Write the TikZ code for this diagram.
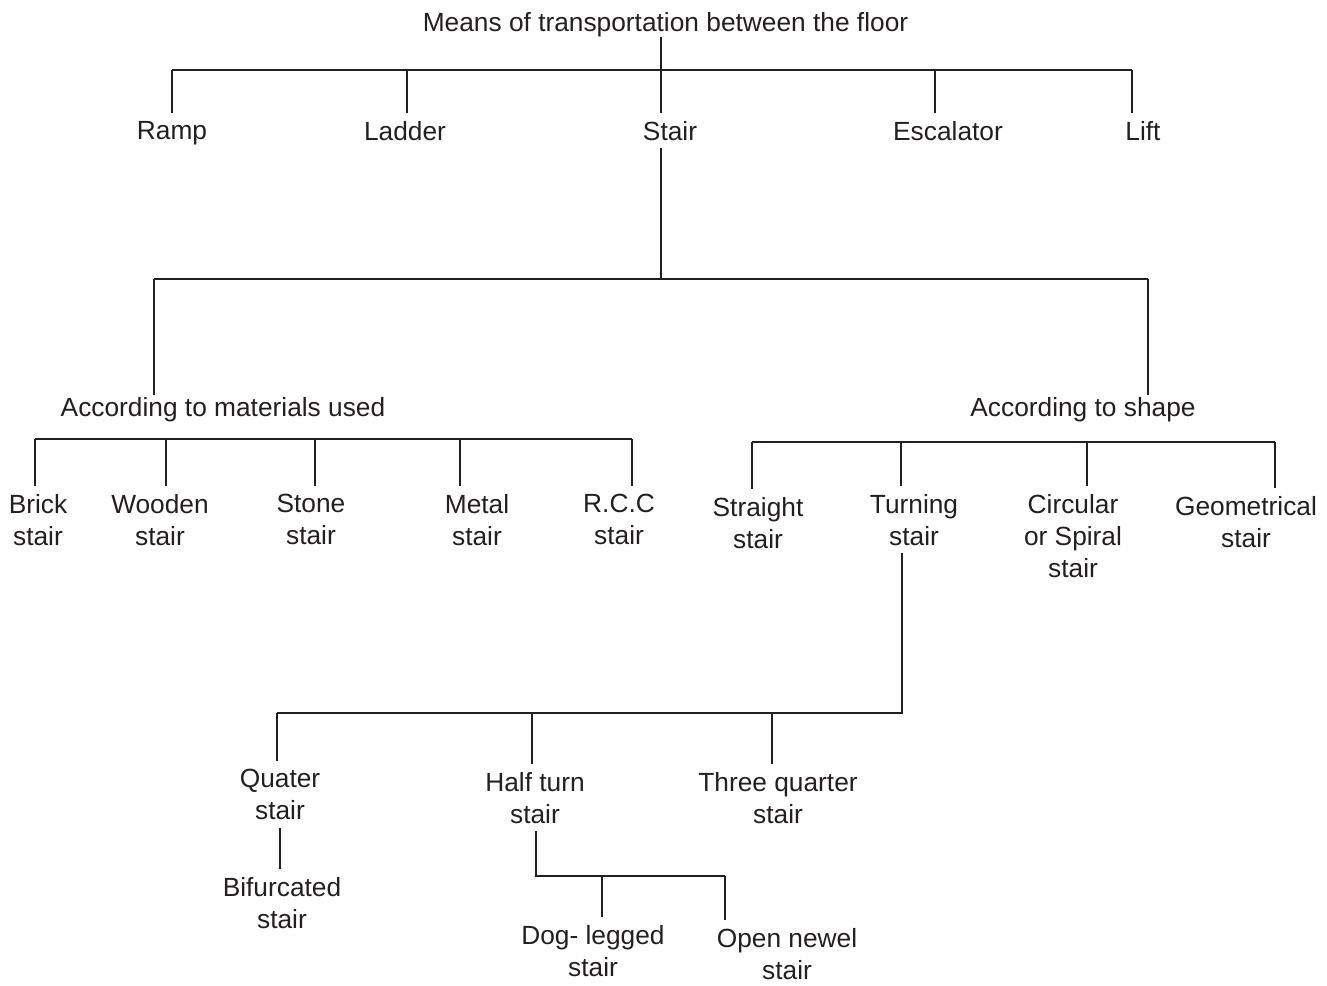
\documentclass[tikz,border=0pt]{standalone}
\usepackage{fontspec}
\setmainfont{Liberation Sans}

\definecolor{ink}{HTML}{231F20}
\tikzset{
  lbl/.style={align=center, anchor=north, inner sep=0pt, outer sep=4pt,
    text=ink, font=\fontsize{13.15}{16}\selectfont},
  link/.style={draw=ink, line width=1.1pt},
}

\begin{document}
\begin{tikzpicture}[x=0.5pt, y=-0.5pt]
  \useasboundingbox (0,0) rectangle (1327,985);

  % labels
  \node[lbl, outer sep=0pt] (title) at (665.5,12) {Means of transportation between the floor};
  \node[lbl] (ramp)      at (172,113)  {Ramp};
  \node[lbl] (ladder)    at (405,113)  {Ladder};
  \node[lbl] (stair)     at (670,113)  {Stair};
  \node[lbl] (escalator) at (948,113)  {Escalator};
  \node[lbl] (lift)      at (1143,113) {Lift};

  \node[lbl, outer sep=1pt] (mat)   at (223,395)  {According to materials used};
  \node[lbl, outer sep=1pt] (shape) at (1083,395) {According to shape};

  \node[lbl] (brick)  at (38,486)  {Brick\\stair};
  \node[lbl] (wooden) at (160,486) {Wooden\\stair};
  \node[lbl] (stone)  at (311,486) {Stone\\stair};
  \node[lbl] (metal)  at (477,486) {Metal\\stair};
  \node[lbl] (rcc)    at (619,486) {R.C.C\\stair};

  \node[lbl] (straight)  at (758,489)  {Straight\\stair};
  \node[lbl] (turning)   at (914,486)  {Turning\\stair};
  \node[lbl] (circular)  at (1073,486) {Circular\\or Spiral\\stair};
  \node[lbl] (geometric) at (1246,488) {Geometrical\\stair};

  \node[lbl] (quater)   at (280,761) {Quater\\stair};
  \node[lbl] (halfturn) at (535,764) {Half turn\\stair};
  \node[lbl] (threeq)   at (778,764) {Three quarter\\stair};
  \node[lbl] (bifurc)   at (282,869) {Bifurcated\\stair};
  \node[lbl] (dogleg)   at (593,917) {Dog- legged\\stair};
  \node[lbl] (openewel) at (787,920) {Open newel\\stair};

  % first level
  \coordinate (j-ramp)      at (172,70);
  \coordinate (j-ladder)    at (407,70);
  \coordinate (j-stair)     at (661,70);
  \coordinate (j-escalator) at (935,70);
  \coordinate (j-lift)      at (1132,70);
  \draw[link] (j-ramp) -- (j-lift);
  \draw[link] (j-stair |- title.south) -- (j-stair);
  \foreach \n in {ramp,ladder,stair,escalator,lift}
    \draw[link] (j-\n) -- (j-\n |- \n.north);

  % stair splits in two
  \coordinate (j-mat)   at (154,279);
  \coordinate (j-shape) at (1148,279);
  \draw[link] (j-stair |- stair.south) -- (j-stair |- j-mat);
  \draw[link] (j-mat) -- (j-shape);
  \draw[link] (j-mat) -- (j-mat |- mat.north);
  \draw[link] (j-shape) -- (j-shape |- shape.north);

  % materials
  \coordinate (j-brick)  at (35,439);
  \coordinate (j-wooden) at (166,439);
  \coordinate (j-stone)  at (315,439);
  \coordinate (j-metal)  at (460,439);
  \coordinate (j-rcc)    at (632,439);
  \draw[link] (j-brick) -- (j-rcc);
  \foreach \n in {brick,wooden,stone,metal,rcc}
    \draw[link] (j-\n) -- (j-\n |- \n.north);

  % shapes
  \coordinate (j-straight)  at (752,442);
  \coordinate (j-turning)   at (901,442);
  \coordinate (j-circular)  at (1087,442);
  \coordinate (j-geometric) at (1275,442);
  \draw[link] (j-straight) -- (j-geometric);
  \foreach \n in {straight,turning,circular,geometric}
    \draw[link] (j-\n) -- (j-\n |- \n.north);

  % turning stair
  \coordinate (j-turn)     at (902,713);
  \coordinate (j-quater)   at (277,713);
  \coordinate (j-halfturn) at (532,713);
  \coordinate (j-threeq)   at (772,713);
  \draw[link] (j-turn |- turning.south) -- (j-turn) -- (j-quater);
  \foreach \n in {quater,halfturn,threeq}
    \draw[link] (j-\n) -- (j-\n |- \n.north);
  \draw[link] (quater.south) -- (quater.south |- bifurc.north);

  % half turn stair
  \coordinate (j-half)   at (536,876);
  \coordinate (j-dogleg) at (602,876);
  \coordinate (j-open)   at (725,876);
  \draw[link] (j-half |- halfturn.south) -- (j-half) -- (j-open);
  \draw[link] (j-dogleg) -- (j-dogleg |- dogleg.north);
  \draw[link] (j-open) -- (j-open |- openewel.north);
\end{tikzpicture}
\end{document}
